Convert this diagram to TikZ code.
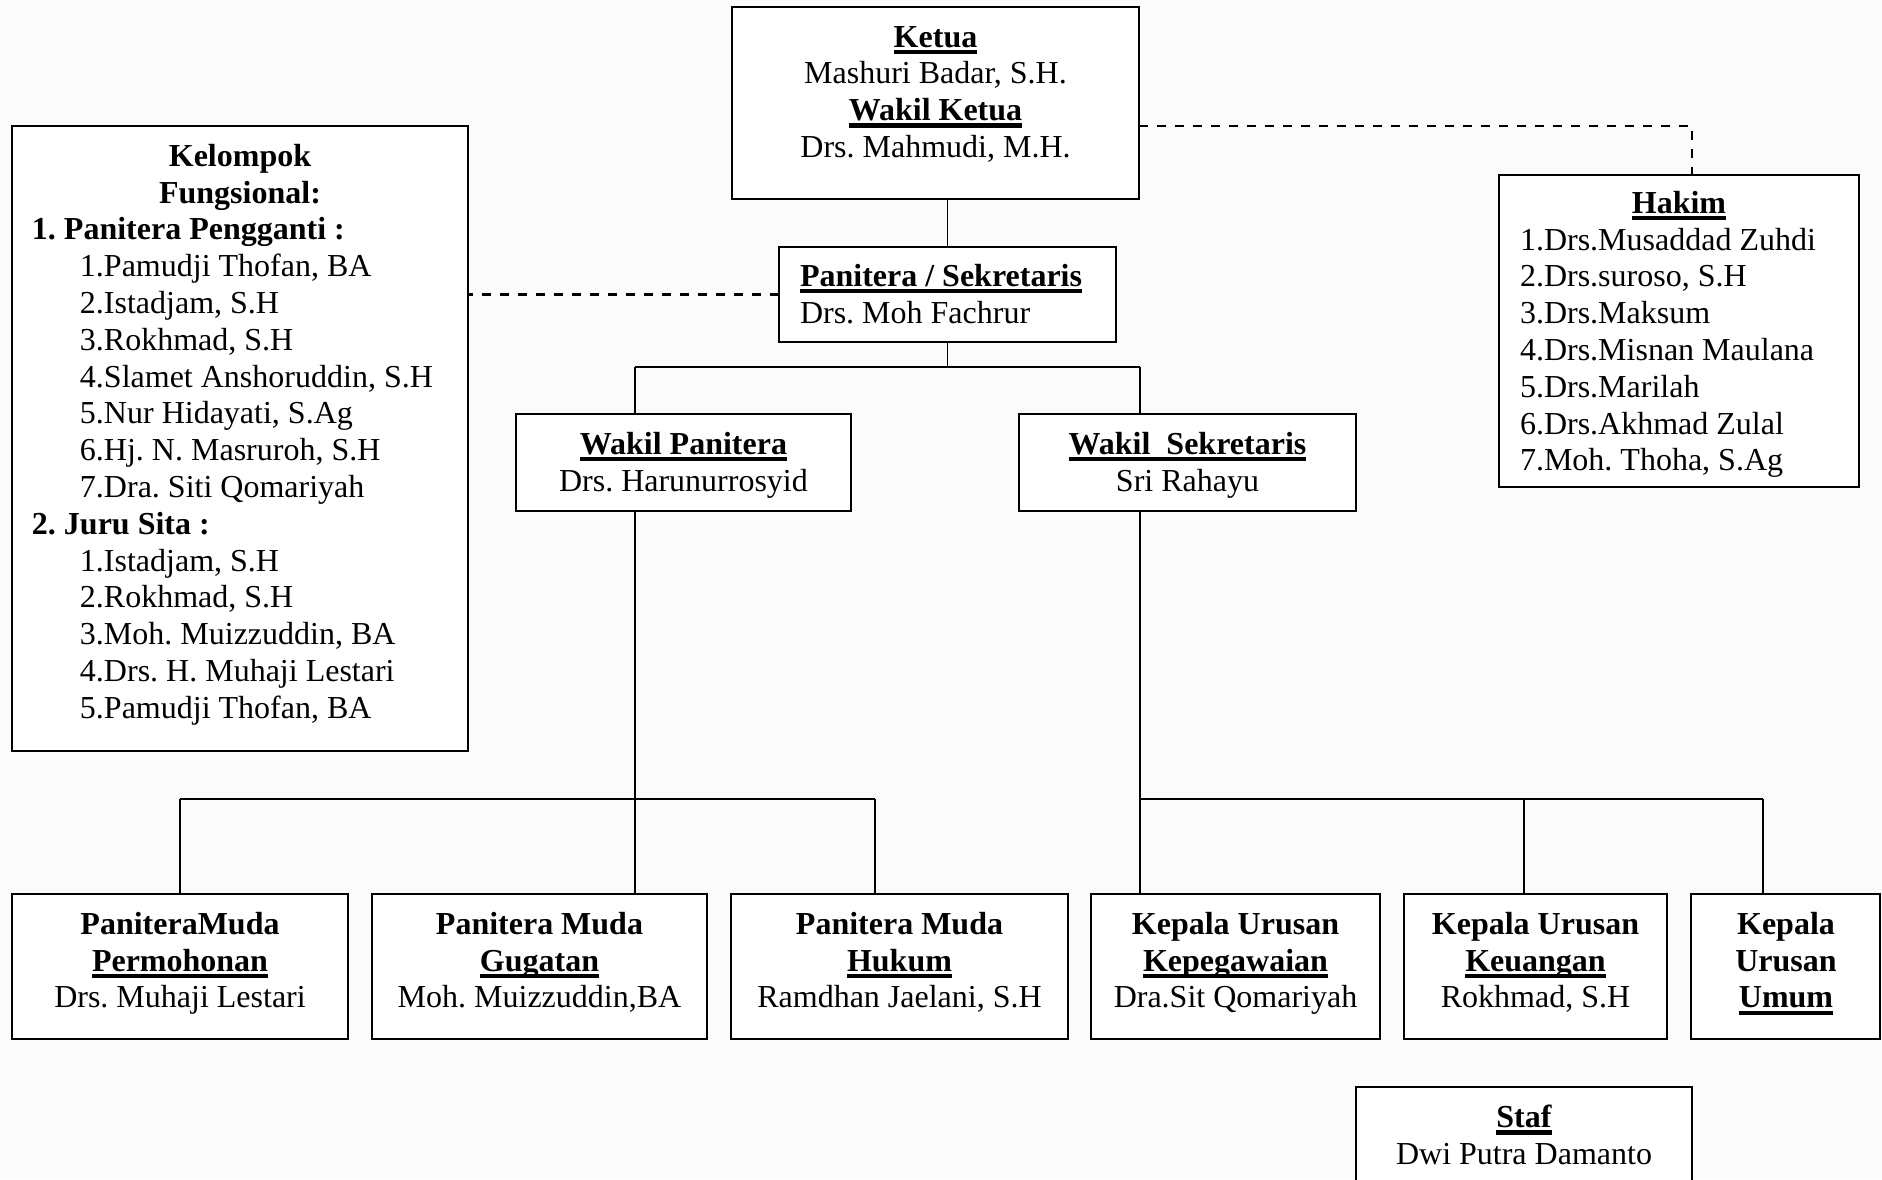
\documentclass[tikz,border=0pt]{standalone}
\usepackage{fontspec}
\setmainfont{Liberation Serif}
\usetikzlibrary{fit,calc}
\definecolor{bgcol}{RGB}{250,251,250}
\newcommand{\ulb}[1]{\leavevmode\setbox0=\hbox{#1}\rlap{\vrule width\wd0 height -1.4pt depth 3.6pt}\box0}
\newcommand{\fl}{\rule{0pt}{11pt}}
\frenchspacing
\begin{document}
\begin{tikzpicture}[x=0.5pt,y=-0.5pt,
  box/.style={draw, fill=white, line width=0.9pt, inner sep=0pt, outer sep=0pt},
  txt/.style={inner sep=0pt, outer sep=0pt, align=center, anchor=north, font=\frenchspacing\fontsize{16}{18.4}\selectfont},
  ltxt/.style={txt, align=left, anchor=north west},
  link/.style={line width=0.9pt},
  dlink/.style={line width=1.3pt, dash pattern=on 4.5pt off 4.5pt}]
\clip (0,0) rectangle (1882,1179);
\fill[bgcol] (0,0) rectangle (1882,1179);
% boxes
\node[box, fit={(732,7) (1139,199)}] (ketua) {};
\node[box, fit={(779,247) (1116,342)}] (pan) {};
\node[box, fit={(12,126) (468,751)}] (kel) {};
\node[box, fit={(1499,175) (1859,487)}] (hakim) {};
\node[box, fit={(516,414) (851,511)}] (wp) {};
\node[box, fit={(1019,414) (1356,511)}] (ws) {};
\node[box, fit={(12,894) (348,1039)}] (b1) {};
\node[box, fit={(372,894) (707,1039)}] (b2) {};
\node[box, fit={(731,894) (1068,1039)}] (b3) {};
\node[box, fit={(1091,894) (1380,1039)}] (b4) {};
\node[box, fit={(1404,894) (1667,1039)}] (b5) {};
\node[box, fit={(1691,894) (1880,1039)}] (b6) {};
\node[box, fit={(1356,1087) (1692,1210)}] (staf) {};
% connectors
\draw[link] (pan.north) -- (pan.north |- ketua.south);
\coordinate (h1L) at (635,367);
\coordinate (h1R) at (1140,367);
\draw[link] (pan.south) -- (pan.south |- h1L);
\draw[link] (h1L) -- (h1R);
\draw[link] (h1L) -- (h1L |- wp.north);
\draw[link] (h1R) -- (h1R |- ws.north);
\coordinate (h2L) at (180,799);
\coordinate (h2M) at (875,799);
\coordinate (h2K) at (1524,799);
\coordinate (h2R) at (1763,799);
\draw[link] (h1L |- wp.south) -- (h1L |- h2L);
\draw[link] (h2L) -- (h2M);
\draw[link] (h2L) -- (h2L |- b1.north);
\draw[link] (h1L |- h2L) -- (h1L |- b2.north);
\draw[link] (h2M) -- (h2M |- b3.north);
\draw[link] (h1R |- ws.south) -- (h1R |- b4.north);
\draw[link] (h1R |- h2L) -- (h2R);
\draw[link] (h2K) -- (h2K |- b5.north);
\draw[link] (h2R) -- (h2R |- b6.north);
\draw[dlink] (pan.west) -- (pan.west -| kel.east);
\draw[dlink] ($(ketua.east)+(0,23)$) -| ($(hakim.north)+(13,0)$);
% texts
\node[txt] (ketua-t) at (935.5,25) {\fl\ulb{\textbf{Ketua}}\\Mashuri Badar, S.H.\\\ulb{\textbf{Wakil Ketua}}\\Drs. Mahmudi, M.H.};
\node[ltxt] (pan-t) at (800,264) {\fl\ulb{\textbf{Panitera / Sekretaris}}\\Drs. Moh Fachrur};
\node[ltxt] (kel-t) at (32,144) {\fl\makebox[208pt][c]{\textbf{Kelompok}}\\
\makebox[208pt][c]{\textbf{Fungsional:}}\\
\textbf{1. Panitera Pengganti :}\\
\hspace*{24pt}1.Pamudji Thofan, BA\\
\hspace*{24pt}2.Istadjam, S.H\\
\hspace*{24pt}3.Rokhmad, S.H\\
\hspace*{24pt}4.Slamet Anshoruddin, S.H\\
\hspace*{24pt}5.Nur Hidayati, S.Ag\\
\hspace*{24pt}6.Hj. N. Masruroh, S.H\\
\hspace*{24pt}7.Dra. Siti Qomariyah\\
\textbf{2. Juru Sita :}\\
\hspace*{24pt}1.Istadjam, S.H\\
\hspace*{24pt}2.Rokhmad, S.H\\
\hspace*{24pt}3.Moh. Muizzuddin, BA\\
\hspace*{24pt}4.Drs. H. Muhaji Lestari\\
\hspace*{24pt}5.Pamudji Thofan, BA};
\node[ltxt] (hakim-t) at (1520,191) {\fl\makebox[159pt][c]{\ulb{\textbf{Hakim}}}\\
1.Drs.Musaddad Zuhdi\\
2.Drs.suroso, S.H\\
3.Drs.Maksum\\
4.Drs.Misnan Maulana\\
5.Drs.Marilah\\
6.Drs.Akhmad Zulal\\
7.Moh. Thoha, S.Ag};
\node[txt] (wp-t) at (683.5,432) {\fl\ulb{\textbf{Wakil Panitera}}\\Drs. Harunurrosyid};
\node[txt] (ws-t) at (1187.5,432) {\fl\ulb{\textbf{Wakil~~Sekretaris}}\\Sri Rahayu};
\node[txt] (b1-t) at (180,912) {\fl\textbf{PaniteraMuda}\\\ulb{\textbf{Permohonan}}\\Drs. Muhaji Lestari};
\node[txt] (b2-t) at (539.5,912) {\fl\textbf{Panitera Muda}\\\ulb{\textbf{Gugatan}}\\Moh. Muizzuddin,BA};
\node[txt] (b3-t) at (899.5,912) {\fl\textbf{Panitera Muda}\\\ulb{\textbf{Hukum}}\\Ramdhan Jaelani, S.H};
\node[txt] (b4-t) at (1235.5,912) {\fl\textbf{Kepala Urusan}\\\ulb{\textbf{Kepegawaian}}\\Dra.Sit Qomariyah};
\node[txt] (b5-t) at (1535.5,912) {\fl\textbf{Kepala Urusan}\\\ulb{\textbf{Keuangan}}\\Rokhmad, S.H};
\node[txt] (b6-t) at (1786,912) {\fl\textbf{Kepala}\\\textbf{Urusan}\\\ulb{\textbf{Umum}}};
\node[txt] (staf-t) at (1524,1105) {\fl\ulb{\textbf{Staf}}\\Dwi Putra Damanto};
\end{tikzpicture}
\end{document}
